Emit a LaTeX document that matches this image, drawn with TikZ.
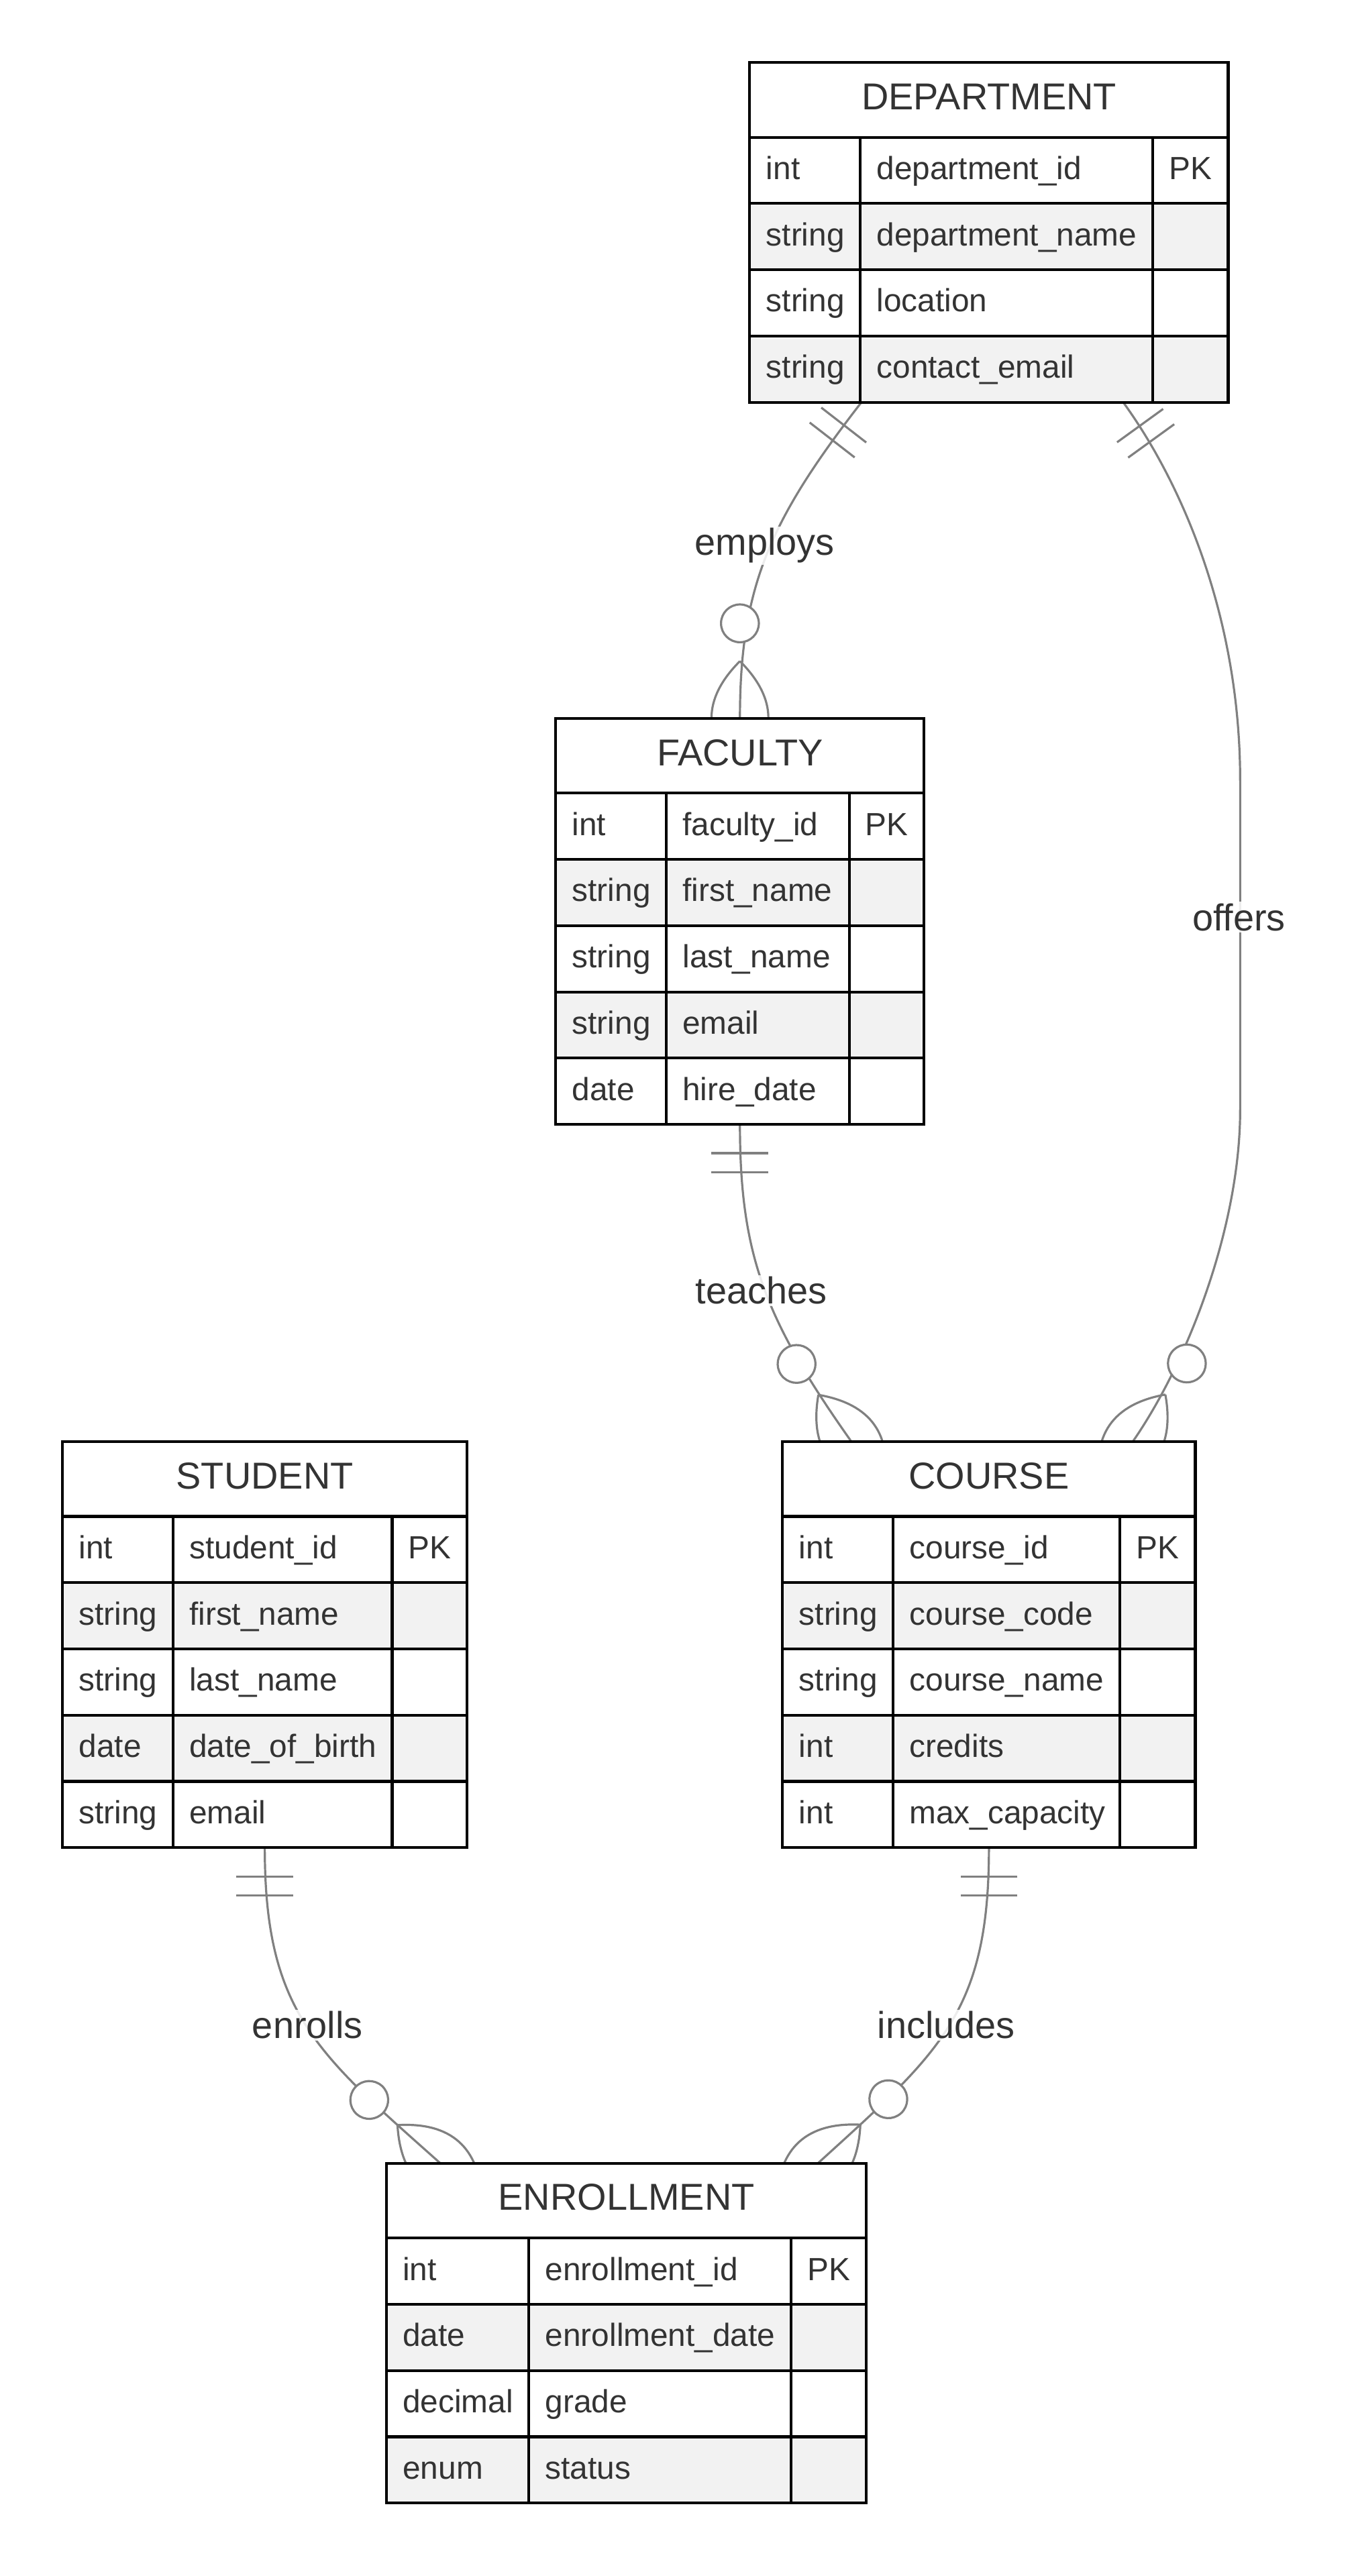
\documentclass[tikz,border=0pt]{standalone}
\usepackage{fontspec}
\setmainfont{Liberation Sans}
\usetikzlibrary{calc,fit,backgrounds}

\definecolor{inkgray}{HTML}{333333}
\definecolor{edgegray}{HTML}{808080}
\definecolor{rowgray}{HTML}{F2F2F2}

\tikzset{
  ercell/.style={draw=black, line width=1.7pt, outer sep=0pt, inner xsep=10pt, inner ysep=0pt,
    anchor=north west, minimum height=40.3pt, text=inkgray, align=left,
    font=\fontsize{19.5}{23}\selectfont, text height=15pt, text depth=4pt},
  erhead/.style={ercell, fill=white, minimum height=45.5pt, align=center,
    font=\fontsize{22.8}{27}\selectfont, text height=16.3pt, text depth=4.5pt},
  erkey/.style={ercell, inner xsep=2pt, align=center},
  erlink/.style={draw=edgegray, line width=1.3pt},
  erlabel/.style={fill=white, fill opacity=0.85, text opacity=1, text=inkgray, inner sep=1pt,
    font=\fontsize{22.8}{27}\selectfont},
  onlyone/.pic={\draw[erlink] (17.3,-17.3) -- (17.3,17.3) (28.8,-17.3) -- (28.8,17.3);},
  zeromany/.pic={\draw[erlink] (-34.6,0) .. controls (-11.53,-23.07) and (11.53,-23.07) .. (34.6,0)
      .. controls (11.53,23.07) and (-11.53,23.07) .. (-34.6,0);
    \draw[erlink, fill=white] (-57.6,0) circle (11.5pt);},
}

% name, left, top, widths of the three columns, title, rows
\newcommand{\erentity}[8]{%
  \pgfmathsetmacro\erw{#4+#5+#6}
  \pgfmathsetmacro\erta{#4-20}
  \pgfmathsetmacro\ertb{#5-20}
  \node[erhead, minimum width=\erw pt] (#1-h) at (#2,#3) {#7};
  \foreach \ty/\nm/\ky [count=\i] in {#8} {
    \ifodd\i \def\erfill{white}\else \def\erfill{rowgray}\fi
    \pgfmathsetmacro\ery{#3+45.5+(\i-1)*40.3}
    \node[ercell, fill=\erfill, text width=\erta pt] (#1-\i-t) at (#2,\ery) {\ty};
    \node[ercell, fill=\erfill, text width=\ertb pt] (#1-\i-n) at (#2+#4,\ery) {\nm};
    \node[erkey, fill=\erfill, minimum width=#6pt] (#1-\i-k) at (#2+#4+#5,\ery) {\ky};
    \xdef\erlast{\i}
  }
  \node[fit=(#1-h)(#1-\erlast-k), inner sep=0pt] (#1) {};
}

\begin{document}
\begin{tikzpicture}[x=1pt, y=-1pt]
\useasboundingbox (0,0) rectangle (823.5,1567.1);

\erentity{dept}{456}{38}{67.2}{178}{45.8}{DEPARTMENT}{int/department\_id/PK, string/department\_name/{}, string/location/{}, string/contact\_email/{}}
\erentity{fac}{338}{437}{67.2}{111.3}{45.6}{FACULTY}{int/faculty\_id/PK, string/first\_name/{}, string/last\_name/{}, string/email/{}, date/hire\_date/{}}
\erentity{stud}{38}{877}{67.2}{133.3}{45.6}{STUDENT}{int/student\_id/PK, string/first\_name/{}, string/last\_name/{}, date/date\_of\_birth/{}, string/email/{}}
\erentity{course}{476}{877}{67.2}{138}{45.8}{COURSE}{int/course\_id/PK, string/course\_code/{}, string/course\_name/{}, int/credits/{}, int/max\_capacity/{}}
\erentity{enroll}{235}{1316}{86.7}{159.6}{45.7}{ENROLLMENT}{int/enrollment\_id/PK, date/enrollment\_date/{}, decimal/grade/{}, enum/status/{}}

\begin{scope}[on background layer]
\fill[white] (0,0) rectangle (823.5,1567.1);
\coordinate (emp-s) at ($(dept.south west)+(68,0)$);
\coordinate (off-s) at ($(dept.south east)+(-63.9,0)$);
\coordinate (off-a) at (754.3,475);
\coordinate (off-b) at (754.3,675);
\coordinate (tea-e) at ($(course.north west)+(41.9,0)$);
\coordinate (off-e) at ($(course.north east)+(-38.1,0)$);
\coordinate (enr-e) at ($(enroll.north west)+(32.8,0)$);
\coordinate (inc-e) at ($(enroll.north east)+(-29.5,0)$);

\draw[erlink] (emp-s) .. controls +(-55.2,71.2) and +(0,-80) .. (fac.north);
\draw[erlink] (off-s) .. controls +(35.2,48.6) and +(0,-100) .. (off-a) -- (off-b) .. controls +(0,70) and +(34.1,-49.3) .. (off-e);
\draw[erlink] (fac.south) .. controls +(0,80) and +(-51.8,-73.4) .. (tea-e);
\draw[erlink] (stud.south) .. controls +(0,100) and +(-74.6,-66.5) .. (enr-e);
\draw[erlink] (course.south) .. controls +(0,100) and +(74,-67.3) .. (inc-e);

\pic[rotate=-127.8] at (emp-s) {onlyone};
\pic[rotate=-90] at (fac.north) {zeromany};
\pic[rotate=-54.1] at (off-s) {onlyone};
\pic[rotate=-124.7] at (off-e) {zeromany};
\pic[rotate=-90] at (fac.south) {onlyone};
\pic[rotate=-54.8] at (tea-e) {zeromany};
\pic[rotate=-90] at (stud.south) {onlyone};
\pic[rotate=-41.7] at (enr-e) {zeromany};
\pic[rotate=-90] at (course.south) {onlyone};
\pic[rotate=-137.7] at (inc-e) {zeromany};
\end{scope}

\node[erlabel] (lbl-emp) at (465,332) {employs};
\node[erlabel] (lbl-off) at (753.5,558) {offers};
\node[erlabel] (lbl-tea) at (463,785) {teaches};
\node[erlabel] (lbl-enr) at (187,1232) {enrolls};
\node[erlabel] (lbl-inc) at (575.5,1232) {includes};
\end{tikzpicture}
\end{document}
